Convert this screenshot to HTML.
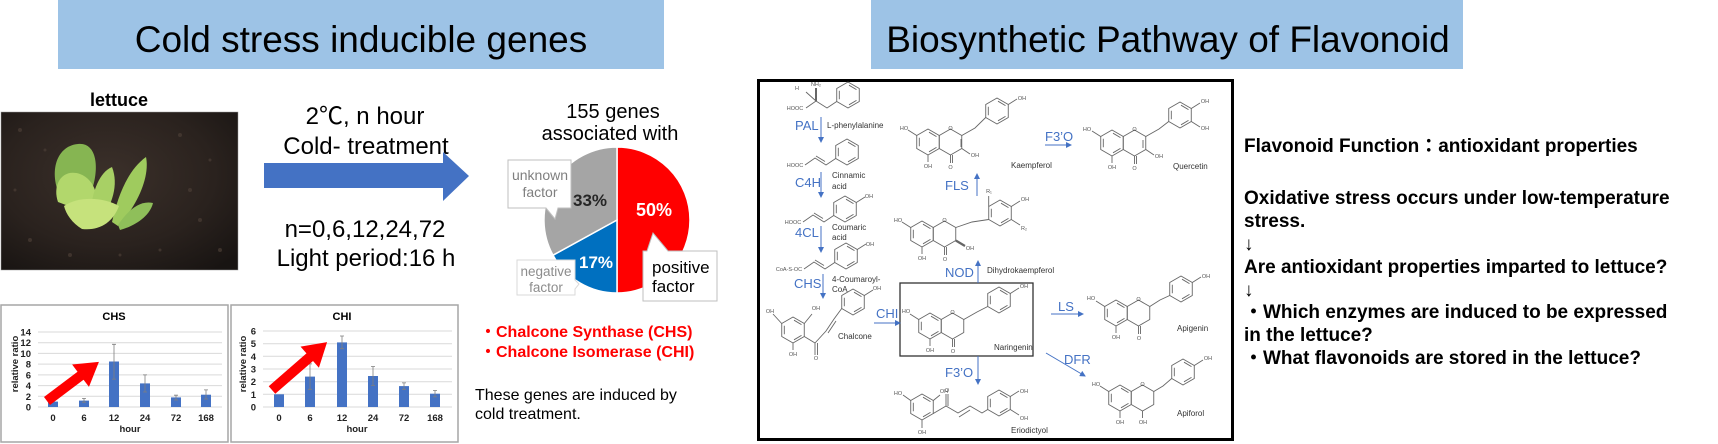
<!DOCTYPE html>
<html><head><meta charset="utf-8"><style>
html,body{margin:0;padding:0;background:#fff;}
body{width:1718px;height:444px;overflow:hidden;}
svg{display:block;font-family:"Liberation Sans","Noto Sans CJK JP",sans-serif;}
</style></head><body>
<svg width="1718" height="444" viewBox="0 0 1718 444" xmlns="http://www.w3.org/2000/svg">
<defs>
<g id="hx"><path d="M0,-13 L11.26,-6.5 L11.26,6.5 L0,13 L-11.26,6.5 L-11.26,-6.5 Z" fill="none"/></g>
<g id="ar"><path d="M0,-13 L11.26,-6.5 L11.26,6.5 L0,13 L-11.26,6.5 L-11.26,-6.5 Z" fill="none"/><path d="M1,-9.8 L8.5,-5.4 M8.5,5.4 L1,9.8 M-8.7,4.2 L-8.7,-4.2" fill="none"/></g>
<radialGradient id="soil" cx="0.45" cy="0.4" r="0.75"><stop offset="0" stop-color="#3b302a"/><stop offset="0.6" stop-color="#2a221e"/><stop offset="1" stop-color="#181412"/></radialGradient>
<marker id="bh" markerWidth="6" markerHeight="6" refX="5" refY="3" orient="auto" markerUnits="userSpaceOnUse"><path d="M0,0 L6,3 L0,6 Z" fill="#4472c4"/></marker>
</defs>

<!-- Titles -->
<rect x="58" y="0" width="606" height="69" fill="#9dc3e6"/>
<text x="361" y="52" font-size="37" text-anchor="middle" fill="#000">Cold stress inducible genes</text>
<rect x="871" y="0" width="592" height="69" fill="#9dc3e6"/>
<text x="1168" y="52" font-size="37" text-anchor="middle" fill="#000">Biosynthetic Pathway of Flavonoid</text>

<!-- lettuce photo -->
<text x="119" y="106" font-size="18" font-weight="bold" text-anchor="middle">lettuce</text>
<rect x="1" y="112" width="237" height="158" fill="url(#soil)" stroke="#999" stroke-width="0.5"/>
<g fill="#4a3d35" opacity="0.7">
<circle cx="20" cy="130" r="2"/><circle cx="45" cy="150" r="1.5"/><circle cx="180" cy="135" r="2"/><circle cx="210" cy="160" r="1.5"/>
<circle cx="200" cy="220" r="2"/><circle cx="30" cy="240" r="2"/><circle cx="160" cy="250" r="1.5"/><circle cx="220" cy="250" r="2"/>
<circle cx="15" cy="190" r="1.5"/><circle cx="190" cy="190" r="2"/><circle cx="120" cy="255" r="1.5"/><circle cx="70" cy="255" r="2"/>
</g>
<g>
<path d="M62,200 C48,175 55,146 78,144 C96,142 100,166 92,190 Z" fill="#86b552"/>
<path d="M112,222 C118,195 128,170 146,157 C150,176 138,205 118,226 Z" fill="#9fcb5e"/>
<path d="M118,225 C128,210 140,200 153,203 C150,216 135,226 120,230 Z" fill="#8fbf5a"/>
<path d="M58,202 C52,185 62,168 80,174 C96,180 100,200 95,216 Z" fill="#b2d76c"/>
<path d="M90,216 C92,190 100,172 112,167 C119,185 112,205 100,222 Z" fill="#a8d065"/>
<path d="M64,206 C80,195 106,198 119,206 C113,222 100,231 82,229 C72,223 66,214 64,206 Z" fill="#c6e27c"/>
</g>

<!-- arrow + treatment text -->
<polygon points="264,163 443,163 443,152 469,176 443,201 443,188 264,188" fill="#4472c4"/>
<text x="365" y="124" font-size="24" text-anchor="middle">2℃, n hour</text>
<text x="366" y="154" font-size="24" text-anchor="middle">Cold- treatment</text>
<text x="365" y="237" font-size="24" text-anchor="middle">n=0,6,12,24,72</text>
<text x="366" y="266" font-size="24" text-anchor="middle">Light period:16 h</text>

<!-- pie -->
<text x="613" y="118" font-size="20" text-anchor="middle">155 genes</text>
<text x="610" y="140" font-size="20" text-anchor="middle">associated with</text>
<path d="M617,220 L617,147 A73,73 0 0 1 617,293 Z" fill="#ff0000" stroke="#fff" stroke-width="1.5"/>
<path d="M617,220 L617,293 A73,73 0 0 1 553,255.2 Z" fill="#0070c0" stroke="#fff" stroke-width="1.5"/>
<path d="M617,220 L553,255.2 A73,73 0 0 1 617,147 Z" fill="#a5a5a5" stroke="#fff" stroke-width="1.5"/>
<text x="590" y="206" font-size="17" font-weight="bold" text-anchor="middle" fill="#262626">33%</text>
<text x="654" y="216" font-size="18" font-weight="bold" text-anchor="middle" fill="#fff">50%</text>
<text x="596" y="268" font-size="17" font-weight="bold" text-anchor="middle" fill="#fff">17%</text>
<path d="M508,160 H571 V208 H558 L555,219 L546,208 H508 Z" fill="#fff" stroke="#bfbfbf" stroke-width="1"/>
<text x="540" y="180" font-size="14" text-anchor="middle" fill="#7f7f7f">unknown</text>
<text x="540" y="197" font-size="14" text-anchor="middle" fill="#7f7f7f">factor</text>
<path d="M517,260 H575 V280 L579,284 L575,289 V295 H517 Z" fill="#fff" stroke="#d9d9d9" stroke-width="1"/>
<text x="546" y="276" font-size="13.5" text-anchor="middle" fill="#8c8c8c">negative</text>
<text x="546" y="292" font-size="13.5" text-anchor="middle" fill="#8c8c8c">factor</text>
<path d="M643,251 H647 L653,233 L668,251 H717 V301 H643 Z" fill="#fff" stroke="#bfbfbf" stroke-width="1"/>
<text x="652" y="273" font-size="17" fill="#000">positive</text>
<text x="652" y="292" font-size="17" fill="#000">factor</text>

<!-- CHS chart -->
<rect x="1" y="305" width="227" height="137" fill="#fff" stroke="#a6a6a6" stroke-width="1.5"/>
<text x="114" y="320" font-size="11" font-weight="bold" text-anchor="middle">CHS</text>
<g stroke="#d9d9d9" stroke-width="1">
<line x1="38" y1="407" x2="222" y2="407"/><line x1="38" y1="396.3" x2="222" y2="396.3"/><line x1="38" y1="385.6" x2="222" y2="385.6"/><line x1="38" y1="374.9" x2="222" y2="374.9"/><line x1="38" y1="364.1" x2="222" y2="364.1"/><line x1="38" y1="353.4" x2="222" y2="353.4"/><line x1="38" y1="342.7" x2="222" y2="342.7"/><line x1="38" y1="332" x2="222" y2="332"/>
</g>
<g font-size="9.5" font-weight="bold" text-anchor="end" fill="#222">
<text x="31" y="410.5">0</text><text x="31" y="399.8">2</text><text x="31" y="389.1">4</text><text x="31" y="378.4">6</text><text x="31" y="367.6">8</text><text x="31" y="356.9">10</text><text x="31" y="346.2">12</text><text x="31" y="335.5">14</text>
</g>
<g fill="#4472c4">
<rect x="48" y="401.6" width="10" height="5.4"/><rect x="79" y="400.6" width="10" height="6.4"/><rect x="109" y="361.5" width="10" height="45.5"/><rect x="140" y="383.4" width="10" height="23.6"/><rect x="171" y="397.4" width="10" height="9.6"/><rect x="201" y="394.7" width="10" height="12.3"/>
</g>
<g stroke="#7f7f7f" stroke-width="0.8">
<path d="M84,398.4 V402.2 M82,398.4 H86 M82,402.2 H86"/>
<path d="M114,344.3 V379.1 M112,344.3 H116 M112,379.1 H116"/>
<path d="M145,374.9 V392 M143,374.9 H147 M143,392 H147"/>
<path d="M176,395.2 V400 M174,395.2 H178 M174,400 H178"/>
<path d="M206,389.9 V399 M204,389.9 H208 M204,399 H208"/>
</g>
<g font-size="9.5" font-weight="bold" text-anchor="middle" fill="#222">
<text x="53" y="421">0</text><text x="84" y="421">6</text><text x="114" y="421">12</text><text x="145" y="421">24</text><text x="176" y="421">72</text><text x="206" y="421">168</text>
<text x="130" y="432">hour</text>
<text transform="translate(18,364) rotate(-90)">relative ratio</text>
</g>
<polygon transform="translate(47,401) rotate(-37)" points="0,-5 42,-5 42,-14 65,0 42,14 42,5 0,5" fill="#ff0000"/>

<!-- CHI chart -->
<rect x="231" y="305" width="227" height="137" fill="#fff" stroke="#a6a6a6" stroke-width="1.5"/>
<text x="342" y="320" font-size="11" font-weight="bold" text-anchor="middle">CHI</text>
<g stroke="#d9d9d9" stroke-width="1">
<line x1="263" y1="407" x2="452" y2="407"/><line x1="263" y1="394.3" x2="452" y2="394.3"/><line x1="263" y1="381.7" x2="452" y2="381.7"/><line x1="263" y1="369" x2="452" y2="369"/><line x1="263" y1="356.3" x2="452" y2="356.3"/><line x1="263" y1="343.7" x2="452" y2="343.7"/><line x1="263" y1="331" x2="452" y2="331"/>
</g>
<g font-size="9.5" font-weight="bold" text-anchor="end" fill="#222">
<text x="256" y="410.5">0</text><text x="256" y="397.8">1</text><text x="256" y="385.2">2</text><text x="256" y="372.5">3</text><text x="256" y="359.8">4</text><text x="256" y="347.2">5</text><text x="256" y="334.5">6</text>
</g>
<g fill="#4472c4">
<rect x="274" y="394.3" width="10" height="12.7"/><rect x="305" y="376.6" width="10" height="30.4"/><rect x="337" y="342.4" width="10" height="64.6"/><rect x="368" y="376" width="10" height="31"/><rect x="399" y="386.1" width="10" height="20.9"/><rect x="430" y="393.7" width="10" height="13.3"/>
</g>
<g stroke="#7f7f7f" stroke-width="0.8">
<path d="M310,363.9 V389.3 M308,363.9 H312 M308,389.3 H312"/>
<path d="M342,336 V348.7 M340,336 H344 M340,348.7 H344"/>
<path d="M373,366.5 V385.5 M371,366.5 H375 M371,385.5 H375"/>
<path d="M404,382.9 V389.3 M402,382.9 H406 M402,389.3 H406"/>
<path d="M435,390.5 V396.9 M433,390.5 H437 M433,396.9 H437"/>
</g>
<g font-size="9.5" font-weight="bold" text-anchor="middle" fill="#222">
<text x="279" y="421">0</text><text x="310" y="421">6</text><text x="342" y="421">12</text><text x="373" y="421">24</text><text x="404" y="421">72</text><text x="435" y="421">168</text>
<text x="357" y="432">hour</text>
<text transform="translate(246,364) rotate(-90)">relative ratio</text>
</g>
<polygon transform="translate(272,390) rotate(-41)" points="0,-5 50,-5 50,-14 73,0 50,14 50,5 0,5" fill="#ff0000"/>

<!-- red gene names -->
<text x="480" y="337" font-size="16" font-weight="bold" fill="#ff0000">・Chalcone Synthase (CHS)</text>
<text x="480" y="357" font-size="16" font-weight="bold" fill="#ff0000">・Chalcone Isomerase (CHI)</text>
<text x="475" y="400" font-size="16" fill="#000">These genes are induced by</text>
<text x="475" y="419" font-size="16" fill="#000">cold treatment.</text>

<!-- Pathway box -->
<rect x="758.5" y="80.5" width="474" height="359" fill="#fff" stroke="#000" stroke-width="3"/>

<g stroke="#666" stroke-width="0.9" fill="none">
<!-- phenylalanine -->
<use href="#ar" x="848" y="95"/>
<path d="M836.7,101.5 L827,108 L816,101 L806,108"/>
<path d="M816,101 L816,88" stroke-width="2"/>
<path d="M816,101 L806,92"/>
<!-- cinnamic -->
<use href="#ar" x="847" y="152"/>
<path d="M835.7,158.5 L826,165 L815,158 L805,165 M825,161.5 L816,156"/>
<!-- coumaric -->
<use href="#ar" x="845" y="209"/>
<path d="M856.3,202.5 L865,197 M833.7,215.5 L824,222 L813,215 L803,222 M823,218.5 L814,213"/>
<!-- coumaroyl CoA -->
<use href="#ar" x="846" y="256"/>
<path d="M857.3,249.5 L866,244 M834.7,262.5 L825,269 L814,262 L804,269 M824,265.5 L815,260"/>
<!-- chalcone -->
<use href="#ar" x="793" y="330"/>
<use href="#ar" x="853" y="302"/>
<path d="M804.3,336.5 L815,343 L815,355 M817.5,343 L817.5,355 M815,343 L826,331 L834,319 L841.7,308.5 M828,333 L836,321 M864.3,295.5 L873,290 M804.3,323.5 L812,314 M781.7,323.5 L773,314 M793,343 L793,350"/>
<!-- naringenin -->
<use href="#ar" x="930" y="326"/>
<use href="#hx" x="952.5" y="326"/>
<use href="#ar" x="999" y="300"/>
<path d="M963.8,319.5 L977,312 L987.7,306.5 M1010.3,293.5 L1019,288 M918.7,319.5 L910,314 M930,339 L930,346 M952.5,339 L952.5,347 M954.5,339 L954.5,347"/>
<!-- dihydrokaempferol -->
<use href="#ar" x="922" y="234"/>
<use href="#hx" x="944.5" y="234"/>
<use href="#ar" x="1000" y="213"/>
<path d="M955.8,227.5 L972,222 L988.7,219.5 M988.7,206.5 L988.7,196 M1011.3,206.5 L1020,201 M1011.3,219.5 L1020,225 M910.7,227.5 L902,222 M922,247 L922,254 M944.5,247 L944.5,255 M946.5,247 L946.5,255"/>
<path d="M955.8,240.5 L965,246" stroke-width="2.2"/>
<!-- kaempferol -->
<use href="#ar" x="928" y="142"/>
<use href="#hx" x="950.5" y="142"/>
<use href="#ar" x="997" y="111"/>
<path d="M961.8,135.5 L975,128 L985.7,117.5 M1008.3,104.5 L1017,99 M916.7,135.5 L908,130 M928,155 L928,162 M950.5,155 L950.5,163 M952.5,155 L952.5,163 M961.8,148.5 L970,154 M961,139 L961,147"/>
<!-- quercetin -->
<use href="#ar" x="1112" y="143"/>
<use href="#hx" x="1134.5" y="143"/>
<use href="#ar" x="1180" y="115"/>
<path d="M1145.8,136.5 L1159,129 L1168.7,121.5 M1191.3,108.5 L1200,103 M1191.3,121.5 L1200,127 M1100.7,136.5 L1092,131 M1112,156 L1112,163 M1134.5,156 L1134.5,164 M1136.5,156 L1136.5,164 M1145.8,149.5 L1154,155 M1143,140 L1143,148"/>
<!-- apigenin -->
<use href="#ar" x="1116" y="313"/>
<use href="#hx" x="1138.5" y="313"/>
<use href="#ar" x="1181" y="289"/>
<path d="M1149.8,306.5 L1160,300 L1169.7,295.5 M1192.3,282.5 L1201,277 M1104.7,306.5 L1096,301 M1116,326 L1116,333 M1138.5,326 L1138.5,334 M1140.5,326 L1140.5,334"/>
<!-- apiforol -->
<use href="#ar" x="1120" y="398"/>
<use href="#hx" x="1142.5" y="398"/>
<use href="#ar" x="1183" y="372"/>
<path d="M1153.8,391.5 L1163,386 L1171.7,378.5 M1194.3,365.5 L1203,360 M1108.7,391.5 L1100,386 M1120,411 L1120,418 M1142.5,411 L1142.5,418"/>
<!-- eriodictyol -->
<use href="#ar" x="922" y="407"/>
<use href="#ar" x="999" y="403"/>
<path d="M933.3,413.5 L946,406 L946,394 M948,406 L948,394 M946,406 L958,413 L970,406 L982,413 L987.7,409.5 M959,417 L970,410 M933.3,400.5 L940,395 M910.7,400.5 L903,395 M922,420 L922,428 M1010.3,396.5 L1019,391 M1010.3,409.5 L1019,415"/>
</g>

<!-- naringenin box -->
<rect x="900" y="283" width="133" height="73" fill="none" stroke="#333" stroke-width="1.3"/>

<!-- atom labels -->
<g font-size="5.5" fill="#555" text-anchor="middle">
<text x="797" y="90">H</text><text x="816" y="86">NH₂</text><text x="795" y="110">HOOC</text>
<text x="795" y="167">HOOC</text><text x="793" y="224">HOOC</text><text x="869" y="198">OH</text>
<text x="789" y="271">CoA-S-OC</text><text x="870" y="246">OH</text>
<text x="770" y="313">OH</text><text x="816" y="310">OH</text><text x="793" y="356">OH</text><text x="816" y="360">O</text><text x="877" y="290">OH</text>
<text x="906" y="313">HO</text><text x="930" y="352">OH</text><text x="953" y="353">O</text><text x="952.5" y="314">O</text><text x="1024" y="288">OH</text>
<text x="898" y="222">HO</text><text x="922" y="260">OH</text><text x="945" y="261">O</text><text x="970" y="250">OH</text><text x="989" y="193">R₁</text><text x="1025" y="201">OH</text><text x="1024" y="230">R₂</text><text x="944.5" y="222">O</text>
<text x="904" y="130">HO</text><text x="928" y="168">OH</text><text x="950.5" y="169">O</text><text x="975" y="157">OH</text><text x="1022" y="100">OH</text><text x="950.5" y="130">O</text>
<text x="1087" y="131">HO</text><text x="1112" y="169">OH</text><text x="1134.5" y="170">O</text><text x="1159" y="158">OH</text><text x="1205" y="103">OH</text><text x="1205" y="130">OH</text><text x="1134.5" y="131">O</text>
<text x="1091" y="300">HO</text><text x="1116" y="339">OH</text><text x="1139" y="340">O</text><text x="1206" y="278">OH</text><text x="1138.5" y="301">O</text>
<text x="1096" y="386">HO</text><text x="1120" y="424">OH</text><text x="1143" y="424">OH</text><text x="1208" y="360">OH</text><text x="1142.5" y="386">O</text>
<text x="898" y="395">HO</text><text x="944" y="393">OH</text><text x="922" y="434">OH</text><text x="947" y="392">O</text><text x="1024" y="393">OH</text><text x="1024" y="420">OH</text>
</g>

<!-- compound names -->
<g font-size="8" fill="#333">
<text x="827" y="128">L-phenylalanine</text>
<text x="832" y="178">Cinnamic</text><text x="832" y="189">acid</text>
<text x="832" y="230">Coumaric</text><text x="832" y="240">acid</text>
<text x="832" y="282">4-Coumaroyl-</text><text x="832" y="292">CoA</text>
<text x="838" y="339">Chalcone</text>
<text x="994" y="350">Naringenin</text>
<text x="987" y="273">Dihydrokaempferol</text>
<text x="1011" y="168">Kaempferol</text>
<text x="1173" y="169">Quercetin</text>
<text x="1177" y="331">Apigenin</text>
<text x="1177" y="416">Apiforol</text>
<text x="1011" y="433">Eriodictyol</text>
</g>

<!-- enzyme labels & arrows -->
<g font-size="13" fill="#4472c4">
<text x="795" y="130">PAL</text>
<text x="795" y="187">C4H</text>
<text x="795" y="237">4CL</text>
<text x="794" y="288">CHS</text>
<text x="876" y="318">CHI</text>
<text x="945" y="190">FLS</text>
<text x="1045" y="141">F3’O</text>
<text x="945" y="277">NOD</text>
<text x="945" y="377">F3’O</text>
<text x="1058" y="311">LS</text>
<text x="1064" y="364">DFR</text>
</g>
<g stroke="#4472c4" stroke-width="1" fill="none">
<line x1="821" y1="117" x2="821" y2="142" marker-end="url(#bh)"/>
<line x1="821" y1="172" x2="821" y2="197" marker-end="url(#bh)"/>
<line x1="821" y1="226" x2="821" y2="252" marker-end="url(#bh)"/>
<line x1="823" y1="274" x2="823" y2="298" marker-end="url(#bh)"/>
<line x1="874" y1="323" x2="900" y2="323" marker-end="url(#bh)"/>
<line x1="977" y1="196" x2="977" y2="174" marker-end="url(#bh)"/>
<line x1="1045" y1="145" x2="1071" y2="145" marker-end="url(#bh)"/>
<line x1="978" y1="283" x2="978" y2="261" marker-end="url(#bh)"/>
<line x1="978" y1="356" x2="978" y2="384" marker-end="url(#bh)"/>
<line x1="1051" y1="314" x2="1083" y2="314" marker-end="url(#bh)"/>
<line x1="1046" y1="353" x2="1085" y2="376" marker-end="url(#bh)"/>
</g>

<!-- right text -->
<g font-size="19" font-weight="bold" fill="#000">
<text x="1244" y="152">Flavonoid Function：antioxidant properties</text>
<text x="1244" y="204">Oxidative stress occurs under low-temperature</text>
<text x="1244" y="227">stress.</text>
<text x="1244" y="250" font-weight="normal">↓</text>
<text x="1244" y="273">Are antioxidant properties imparted to lettuce?</text>
<text x="1244" y="296" font-weight="normal">↓</text>
<text x="1244" y="318">・Which enzymes are induced to be expressed</text>
<text x="1244" y="341">in the lettuce?</text>
<text x="1244" y="364">・What flavonoids are stored in the lettuce?</text>
</g>
</svg>
</body></html>
